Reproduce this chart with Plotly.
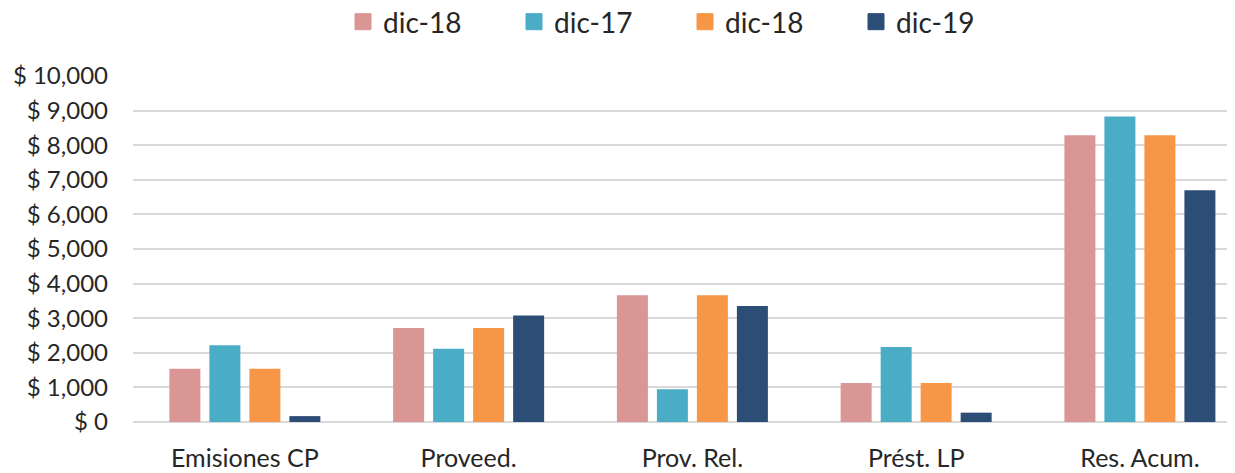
import plotly.graph_objects as go

categories = ["Emisiones CP", "Proveed.", "Prov. Rel.", "Prést. LP", "Res. Acum."]
series_names = ["dic-18", "dic-17", "dic-18", "dic-19"]
s1_values = [1540, 2720, 3660, 1130, 8290]
s2_values = [2220, 2120, 950, 2170, 8830]
s3_values = [1540, 2720, 3660, 1130, 8290]
s4_values = [170, 3080, 3350, 270, 6700]
y_tick_values = [0, 1000, 2000, 3000, 4000, 5000, 6000, 7000, 8000, 9000, 10000]
y_tick_labels = ["$ " + f"{v:,}" for v in y_tick_values]

colors = ["#D99694", "#4BACC6", "#F79646", "#2C4D75"]
all_values = [s1_values, s2_values, s3_values, s4_values]

FONT = "Lato"
TXT = "#262626"

fig = go.Figure()
for name, vals, col in zip(series_names, all_values, colors):
    fig.add_trace(go.Bar(x=categories, y=vals, name=name, marker=dict(color=col, line=dict(width=0)),
                         showlegend=False))
# legend entries
for name, col in zip(series_names, colors):
    fig.add_trace(go.Scatter(x=[None], y=[None], mode="markers", name=name,
                             marker=dict(symbol="square", size=16, color=col, line=dict(color=col, width=1)),
                             showlegend=True))

# page body has an 8px margin; size the figure so it fills the 1235x473 window
OFF = 8
W, H = 1235 - OFF, 473 - OFF
ml, mr, mt, mb = 133 - OFF, 0, 76 - OFF, 51
plot_w = W - ml - mr
plot_h = H - mt - mb
fig.update_layout(
    width=W, height=H,
    margin=dict(l=ml, r=mr, t=mt, b=mb, pad=0, autoexpand=False),
    paper_bgcolor="white", plot_bgcolor="white",
    barmode="group", bargap=0.285, bargroupgap=0.225,
    font=dict(family=FONT, color=TXT, size=24),
    legend=dict(orientation="h", x=(343 - 133) / plot_w, xanchor="left",
                y=1 + (76 - 22) / plot_h, yanchor="middle",
                entrywidth=126, entrywidthmode="pixels",
                font=dict(family=FONT, size=28, color=TXT),
                bgcolor="rgba(0,0,0,0)", borderwidth=0, itemclick=False),
    xaxis=dict(range=[-0.5, 4.425], showgrid=False, showline=False, zeroline=False,
               ticks="", tickfont=dict(size=25, family=FONT, color=TXT), ticklabelstandoff=19,
               automargin=False, fixedrange=True),
    yaxis=dict(range=[0, 10000], tickmode="array", tickvals=y_tick_values, ticktext=y_tick_labels,
               showgrid=True, gridcolor="#D9D9D9", gridwidth=2,
               zeroline=True, zerolinecolor="#D9D9D9", zerolinewidth=2,
               showline=False, ticks="", ticklabelstandoff=24, automargin=False,
               tickfont=dict(size=24, family=FONT, color=TXT), fixedrange=True),
)

fig.write_html("out.html")
